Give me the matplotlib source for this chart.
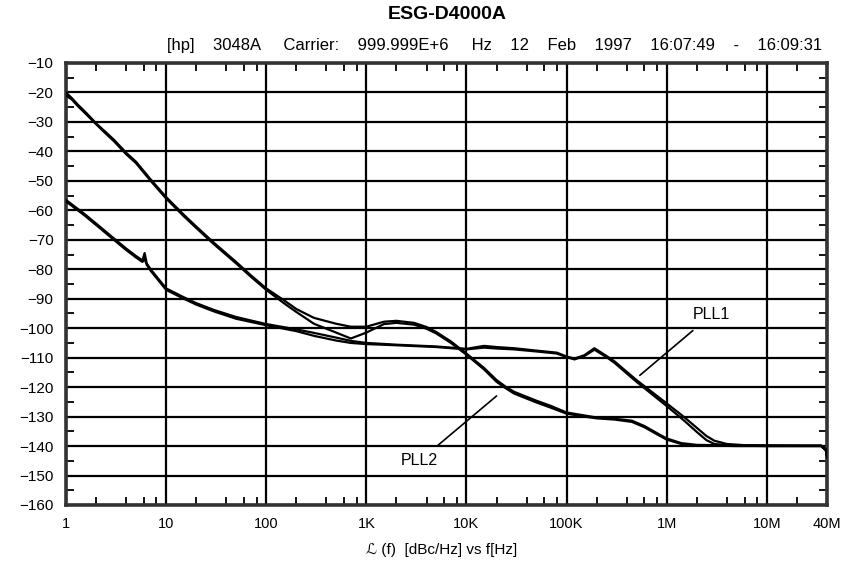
import numpy as np
import matplotlib
matplotlib.use("Agg")
import matplotlib.pyplot as plt
from matplotlib.ticker import FixedLocator, NullFormatter

plt.rcParams['font.family'] = ['Liberation Sans', 'DejaVu Sans']

# PLL2: steep close-in curve with a bump near 2 kHz
pll2_f = [1, 1.15, 1.3, 1.6, 2, 2.5, 3, 4, 5, 7, 10, 15, 20, 30, 50, 70, 100, 150,
          200, 300, 500, 700, 1e3, 1.5e3, 2e3, 3e3, 4e3, 5e3, 7e3, 1e4, 1.5e4, 2e4,
          2.5e4, 3e4, 5e4, 7e4, 1e5, 1.5e5, 2e5, 3e5, 4.5e5, 6e5, 8e5, 1e6, 1.4e6,
          2e6, 5e6, 1e7, 2e7, 3.5e7, 3.9e7, 4e7]
pll2_a = [-20, -22, -24, -27, -30.5, -33.5, -36, -40.5, -43.5, -49.5, -55.5, -61.5,
          -65.5, -71, -77.5, -82, -86.5, -90.5, -93.5, -96.5, -98.5, -99.5, -99.5,
          -97.8, -97.5, -98.2, -99.6, -101.3, -104.5, -108.6, -113.5, -117.6, -120,
          -121.6, -124.6, -126.4, -128.6, -129.6, -130.3, -130.7, -131.4, -133.2,
          -135.6, -137.4, -139, -139.6, -139.8, -139.8, -139.9, -139.8, -141, -143.5]
pll2_b = [-21, -22.5, -24.5, -27.5, -30.8, -34, -36.5, -41, -44, -50, -56, -62,
          -66, -71.5, -78, -82.5, -87, -91.5, -94.5, -98.5, -101.5, -103.5, -101.5,
          -98.6, -98.2, -98.8, -100.2, -101.8, -105, -109, -114, -118.2, -120.5,
          -122.2, -125.2, -127, -129, -130, -130.6, -131, -131.8, -133.6, -136,
          -137.8, -139.3, -139.8, -140, -140, -140, -140, -141.5, -144]

# PLL1: flat in-band floor with a bump near 190 kHz
pll1_f = [1, 1.5, 2, 3, 4, 5, 5.8, 6.1, 6.4, 7, 10, 15, 20, 30, 50, 100, 200, 300,
          500, 700, 1e3, 2e3, 5e3, 1e4, 1.5e4, 2e4, 3e4, 5e4, 8e4, 1e5, 1.2e5, 1.5e5,
          1.9e5, 2.5e5, 3e5, 5e5, 1e6, 1.5e6, 2e6, 2.5e6, 3e6, 4e6, 6e6, 1e7, 2e7,
          3.5e7, 3.9e7, 4e7]
pll1_a = [-56.5, -61, -64.5, -69.5, -73, -75.5, -77, -74.5, -78, -80, -86.5,
          -89.5, -91.5, -93.8, -96.2, -98.6, -100.4, -101.6, -103.2, -104.3, -105,
          -105.6, -106.2, -107, -106, -106.4, -106.8, -107.6, -108.3, -109.6, -110.3,
          -109.2, -106.8, -109.4, -111.2, -117.6, -125.5, -130.2, -133.8, -136.6,
          -138.2, -139.3, -139.7, -139.8, -139.8, -139.9, -141.2, -142.5]
pll1_b = [-57, -61.5, -65, -70, -73.5, -76, -77.5, -76.5, -78.5, -80.5, -87, -90,
          -92, -94.3, -96.8, -99, -101, -102.6, -104.2, -105, -105.4, -105.8,
          -106.4, -107.2, -106.6, -106.9, -107.2, -107.9, -108.6, -109.8, -110.6,
          -109.5, -107.3, -109.8, -111.7, -118.2, -126.4, -131.4, -135.2, -138,
          -139.3, -139.7, -139.9, -140, -140, -140, -141.5, -143]

x_ticks = [1, 10, 100, 1e3, 1e4, 1e5, 1e6, 1e7, 4e7]
x_labels = ['1', '10', '100', '1K', '10K', '100K', '1M', '10M', '40M']
y_ticks = list(range(-160, -9, 10))

fig = plt.figure(figsize=(8.53, 5.71), dpi=100)
ax = fig.add_axes([0.0774, 0.1156, 0.8921, 0.7741])

for f, a in [(pll2_f, pll2_a), (pll2_f, pll2_b), (pll1_f, pll1_a), (pll1_f, pll1_b)]:
    ax.plot(f, a, color='black', linewidth=1.6, zorder=3)

ax.set_xscale('log')
ax.set_xlim(1, 4e7)
ax.set_ylim(-160, -10)

ax.xaxis.set_major_locator(FixedLocator(x_ticks))
ax.set_xticklabels(x_labels)
minors = [m * 10 ** d for d in range(0, 8) for m in (2, 4, 6, 8) if m * 10 ** d < 4e7]
ax.xaxis.set_minor_locator(FixedLocator(minors))
ax.xaxis.set_minor_formatter(NullFormatter())
ax.set_yticks(y_ticks)
ax.set_yticks(list(range(-155, -10, 10)), minor=True)

ax.grid(True, which='major', color='black', linewidth=1.6)
ax.tick_params(which='major', length=0, pad=9, labelsize=11)
ax.tick_params(axis='x', which='major', labelsize=10.5)
ax.tick_params(which='minor', direction='in', length=6, width=1.3,
               top=True, bottom=True, left=True, right=True, color='black')
for s in ax.spines.values():
    s.set_linewidth(2.6)
    s.set_color('#333333')

ax.annotate('PLL1', xy=(5.4e5, -116), xytext=(2.8e6, -95.5),
            fontsize=11.5, ha='center', va='center',
            arrowprops=dict(arrowstyle='-', color='black', lw=1.2, shrinkA=6, shrinkB=0))
ax.annotate('PLL2', xy=(2.0e4, -123), xytext=(3.4e3, -145),
            fontsize=11.5, ha='center', va='center',
            arrowprops=dict(arrowstyle='-', color='black', lw=1.2, shrinkA=6, shrinkB=0))

fig.text(0.524, 0.975, 'ESG-D4000A', fontsize=14, fontweight='bold',
         ha='center', va='center')
fig.text(0.964, 0.921,
         '[hp]    3048A     Carrier:    999.999E+6     Hz    12    Feb    1997    16:07:49    -    16:09:31',
         fontsize=12, ha='right', va='center')
fig.text(0.518, 0.037, 'ℒ (f)  [dBc/Hz] vs f[Hz]', fontsize=11,
         ha='center', va='center')

fig.savefig('out.png', dpi=100)
